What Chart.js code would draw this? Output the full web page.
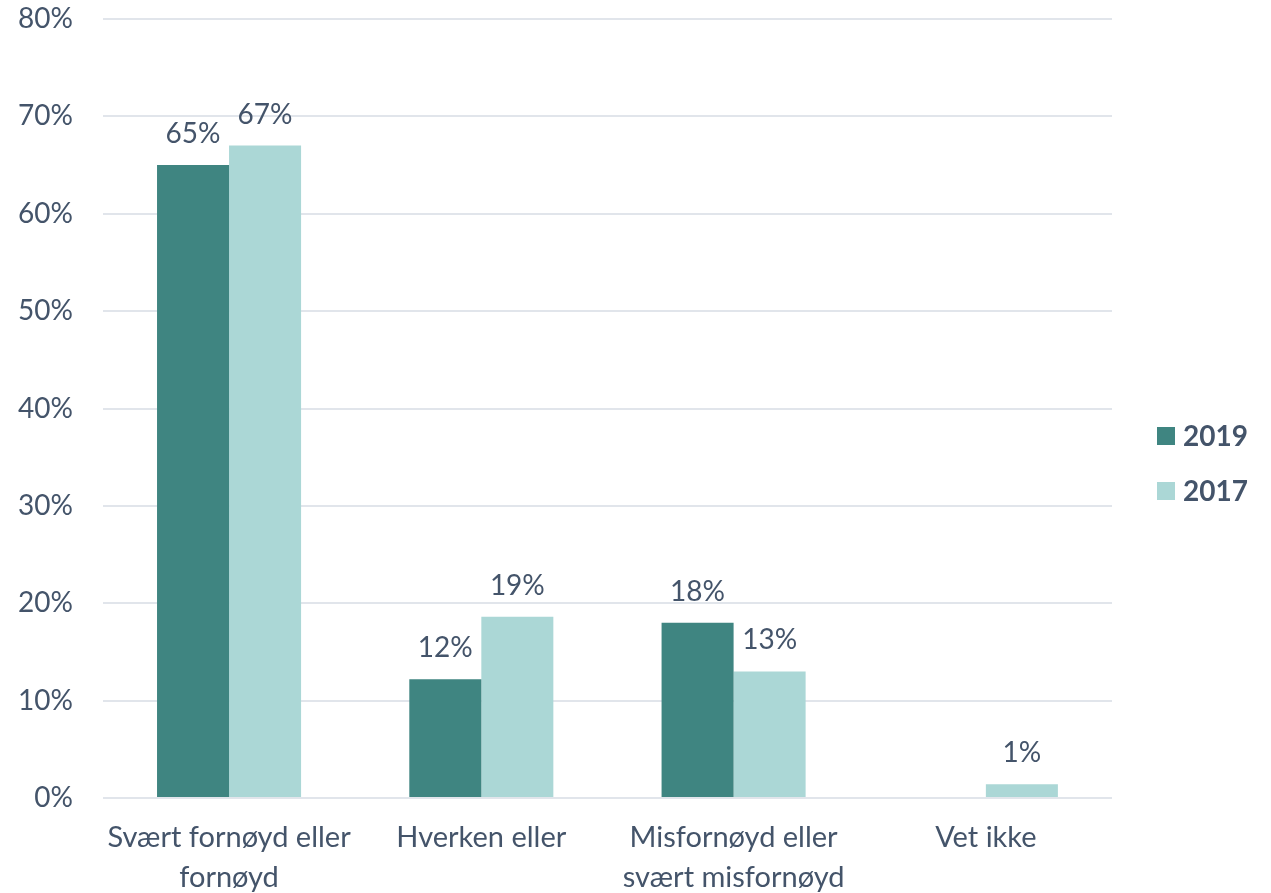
<!DOCTYPE html>
<html>
<head>
<meta charset="utf-8">
<script src="https://cdn.jsdelivr.net/npm/chart.js@4"></script>
<style>
  html, body { margin: 0; padding: 0; background: #fff; }
  #wrap { width: 1271px; height: 893px; }
</style>
</head>
<body>
<div id="wrap"><canvas id="tilfredshetChart"></canvas></div>
<script>
// svarkategorier og andeler (prosent)
const categories = [
    ['Svært fornøyd eller', 'fornøyd'],
    'Hverken eller',
    ['Misfornøyd eller', 'svært misfornøyd'],
    'Vet ikke'
];
const years = ['2019', '2017'];
const values2019 = [65, 12.2, 18, null];
const values2017 = [67, 18.6, 13, 1.4];

const textColor = '#44546A';
const colors = ['#3F8581', '#ABD7D6'];
const fontFamily = 'Lato, "Open Sans", sans-serif';

// prosentetiketter over søylene
const valueLabels = {
    id: 'valueLabels',
    afterDatasetsDraw(chart) {
        const ctx = chart.ctx;
        ctx.save();
        ctx.font = '28px ' + fontFamily;
        ctx.fillStyle = textColor;
        ctx.textAlign = 'center';
        ctx.textBaseline = 'middle';
        chart.data.datasets.forEach(function (ds, i) {
            chart.getDatasetMeta(i).data.forEach(function (bar, j) {
                const v = ds.data[j];
                if (v === null) return;
                ctx.fillText(Math.round(v) + '%', bar.x, bar.y - 31);
            });
        });
        ctx.restore();
    }
};

// forklaring til høyre for plottet
const sideLegend = {
    id: 'sideLegend',
    afterDraw(chart) {
        const ctx = chart.ctx;
        const area = chart.chartArea;
        const x = area.right + 45;
        let y = 436;
        ctx.save();
        ctx.font = 'bold 28px ' + fontFamily;
        ctx.textBaseline = 'middle';
        chart.data.datasets.forEach(function (ds) {
            ctx.fillStyle = ds.backgroundColor;
            ctx.fillRect(x, y - 9, 18, 18);
            ctx.fillStyle = textColor;
            ctx.fillText(ds.label, x + 26, y + 1);
            y += 55;
        });
        ctx.restore();
    }
};

new Chart(document.getElementById('tilfredshetChart'), {
    type: 'bar',
    data: {
        labels: categories,
        datasets: [{
            label: years[0],
            data: values2019,
            backgroundColor: colors[0]
        }, {
            label: years[1],
            data: values2017,
            backgroundColor: colors[1]
        }]
    },
    options: {
        responsive: true,
        maintainAspectRatio: false,
        animation: false,
        categoryPercentage: 0.571,
        barPercentage: 1,
        layout: {
            padding: { top: 4, left: 18, right: 159, bottom: -5 }
        },
        scales: {
            x: {
                // usynlige tick-streker gir avstand til etikettene
                grid: {
                    color: 'transparent',
                    drawOnChartArea: false,
                    tickColor: 'transparent',
                    tickLength: 20
                },
                border: { display: false },
                ticks: {
                    color: textColor,
                    padding: 0,
                    autoSkip: false,
                    maxRotation: 0,
                    minRotation: 0,
                    font: { family: fontFamily, size: 29, lineHeight: 1.38 }
                }
            },
            y: {
                min: 0,
                max: 80,
                grid: {
                    color: '#E1E5EB',
                    lineWidth: 2,
                    tickColor: 'transparent',
                    tickLength: 30
                },
                border: { display: false },
                ticks: {
                    stepSize: 10,
                    color: textColor,
                    padding: 0,
                    font: { family: fontFamily, size: 28, lineHeight: 1.36 },
                    callback: function (v) { return v + '%'; }
                }
            }
        },
        plugins: {
            legend: { display: false },
            tooltip: { enabled: false }
        }
    },
    plugins: [valueLabels, sideLegend]
});
</script>
</body>
</html>
